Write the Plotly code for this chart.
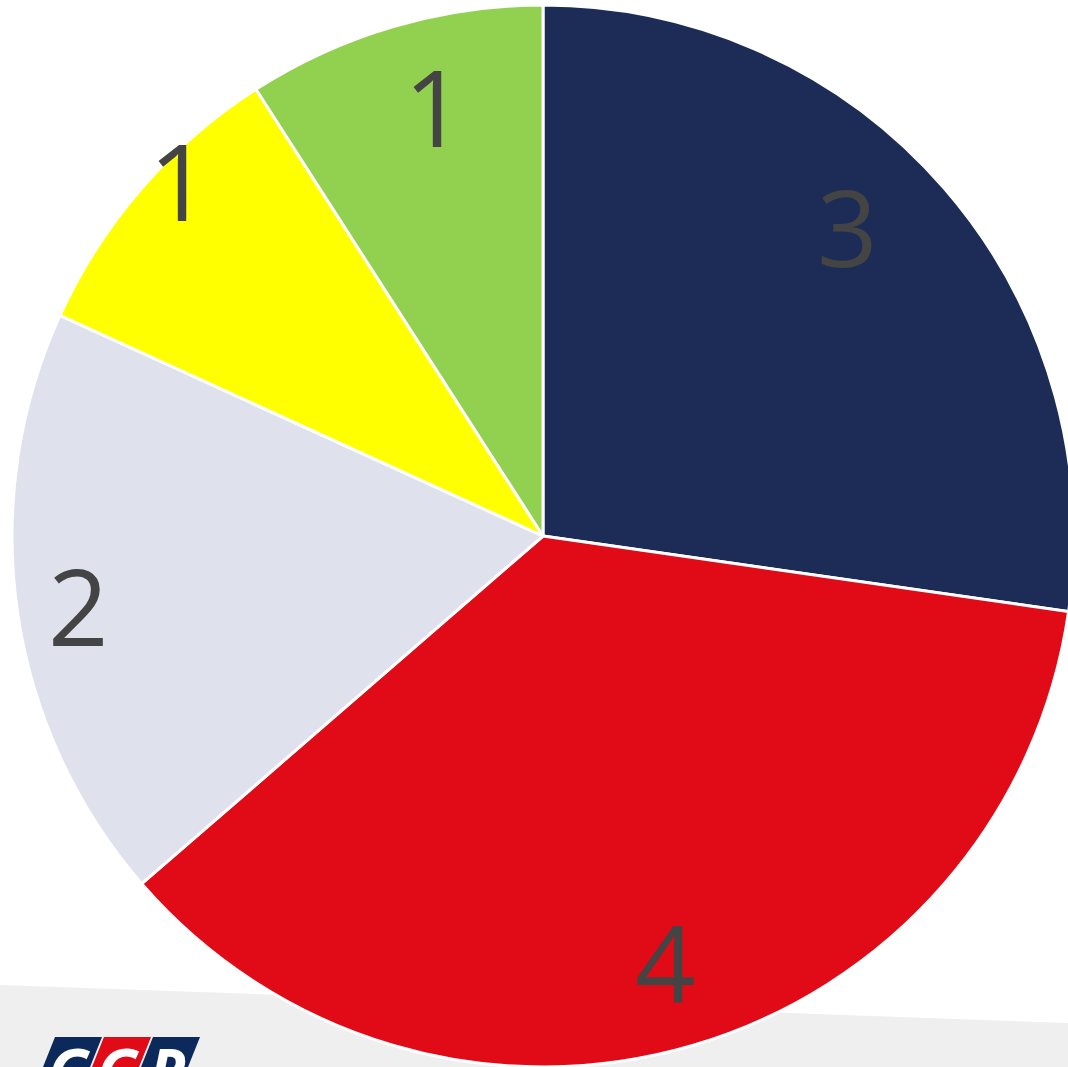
import math
import plotly.graph_objects as go

labels = ["A", "B", "C", "D", "E"]
values = [3, 4, 2, 1, 1]
colors = ["#1c2c56", "#e10a17", "#dfe1ed", "#ffff00", "#92d050"]

# label placement (layout only): radial fraction and small angular nudge (deg)
label_rfrac = [0.819, 0.834, 0.885, 0.957, 0.835]
label_nudge = [-4.6, 0.3, -0.3, 3.5, 2.2]

W, H = 1080, 1067
cx, cy, r, top = 543, 536, 531, 5

fig = go.Figure(go.Pie(
    labels=labels,
    values=values,
    sort=False,
    direction="clockwise",
    rotation=0,
    textinfo="none",
    marker=dict(colors=colors, line=dict(color="white", width=3)),
    domain=dict(x=[(cx - r) / W, (cx + r) / W], y=[0, 1 - top / H]),
    showlegend=False,
    hoverinfo="label+value",
))

# value labels at each slice's mid-angle
total = sum(values)
cum = 0
for v, rf, nd in zip(values, label_rfrac, label_nudge):
    mid = (cum + v / 2) / total * 360 + nd
    cum += v
    px = cx + rf * r * math.sin(math.radians(mid))
    py = cy - rf * r * math.cos(math.radians(mid))
    fig.add_annotation(x=px / W, y=1 - py / H, xref="paper", yref="paper",
                       text=str(v), showarrow=False, xanchor="center", yanchor="middle",
                       font=dict(family="Open Sans", size=106, color="#444444"))

# grey footer band (behind the pie)
fig.add_shape(type="path", xref="paper", yref="paper", layer="below",
              path=f"M 0 {1 - 985 / H} L {1068 / W} {1 - 1023 / H} L {1068 / W} 0 L 0 0 Z",
              fillcolor="#efefef", line=dict(width=0))

# logo blocks
logo_cols = ["#0b2a5b", "#e10a17", "#0b2a5b"]
logo_letters = ["G", "G", "R"]
x_tops = [(55, 102), (104, 151), (153, 200)]
slant = 12
for (x0, x1), col, let in zip(x_tops, logo_cols, logo_letters):
    y0 = 1 - 1037 / H
    y1 = 1 - 1067 / H
    fig.add_shape(type="path", xref="paper", yref="paper",
                  path=f"M {x0 / W} {y0} L {x1 / W} {y0} L {(x1 - slant) / W} {y1} L {(x0 - slant) / W} {y1} Z",
                  fillcolor=col, line=dict(width=0))
    fig.add_annotation(x=((x0 + x1) / 2 - 9) / W, y=1 - 1026 / H, xref="paper", yref="paper",
                       text=f"<b><i>{let}</i></b>", showarrow=False, xanchor="center", yanchor="top",
                       font=dict(family="Open Sans", size=62, color="white"))

fig.update_layout(
    width=W, height=H,
    margin=dict(l=0, r=0, t=0, b=0),
    paper_bgcolor="white",
    plot_bgcolor="white",
)

fig.write_html("out.html", config={"displayModeBar": False},
               post_script="document.body.style.margin='0';document.body.style.overflow='hidden';")
